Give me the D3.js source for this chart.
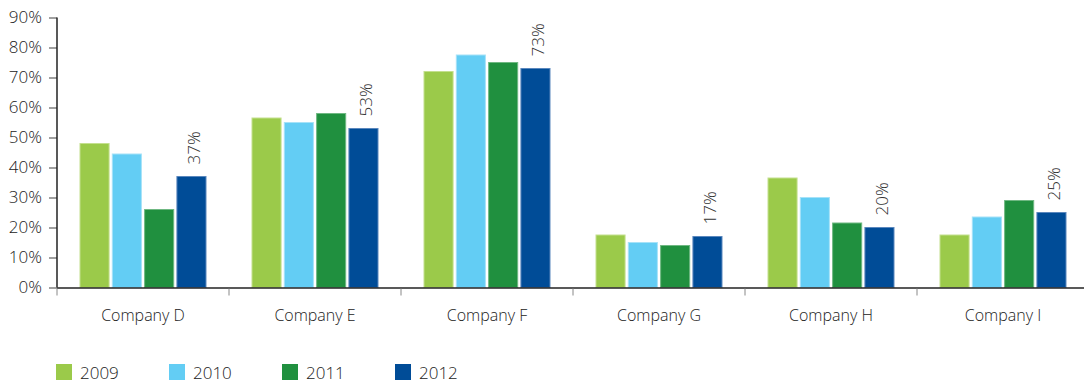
<!DOCTYPE html>
<html>
<head>
<meta charset="utf-8">
<script src="https://cdn.jsdelivr.net/npm/d3@7"></script>
<style>
  html, body { margin: 0; padding: 0; background: #fff; }
  svg { display: block; font-family: "Open Sans", "Noto Sans", sans-serif; font-weight: 300; }
</style>
</head>
<body>
<svg id="chart" width="1084" height="385"></svg>
<script>
// Companies along the x axis
const categories = ["Company D", "Company E", "Company F", "Company G", "Company H", "Company I"];
// Years shown as grouped bars
const years = ["2009", "2010", "2011", "2012"];
// Percent values per year, one entry per company
const values2009 = [48, 56.5, 72, 17.5, 36.5, 17.5];
const values2010 = [44.5, 55, 77.5, 15, 30, 23.5];
const values2011 = [26, 58, 75, 14, 21.5, 29];
const values2012 = [37, 53, 73, 17, 20, 25];
// Y axis tick values
const yTicks = [0, 10, 20, 30, 40, 50, 60, 70, 80, 90];

const series = [values2009, values2010, values2011, values2012];
const colors = ["#9BCA4A", "#63CDF4", "#20903F", "#004C97"];
const edges  = ["#c4e08e", "#a6e2f8", "#6fb882", "#5a87bd"];

const svg = d3.select("#chart");
const plotLeft = 57, plotRight = 1089, plotTop = 17.5, plotBottom = 287.5;

const x0 = d3.scaleBand().domain(categories).range([plotLeft, plotRight]).padding(0);
const groupW = 126;
const x1 = d3.scaleBand().domain(years).range([0, groupW]).paddingInner(0.1).paddingOuter(0);
const y = d3.scaleLinear().domain([0, 90]).range([plotBottom, plotTop]);

// Y axis: gray ticks on the left, dark spine
const yAxis = svg.append("g")
  .attr("transform", `translate(${plotLeft},0)`)
  .call(d3.axisLeft(y).tickValues(yTicks).tickFormat(d => d + "%").tickSize(8).tickPadding(7));
yAxis.select(".domain").remove();
yAxis.selectAll(".tick line").attr("stroke", "#a0a0a0").attr("stroke-width", 2);
yAxis.selectAll(".tick text")
  .attr("fill", "#222").style("font-size", "17px")
  .style("font-family", "'Open Sans', sans-serif").style("font-weight", 300);
svg.append("line")
  .attr("x1", plotLeft).attr("x2", plotLeft).attr("y1", plotTop).attr("y2", plotBottom)
  .attr("stroke", "#222").attr("stroke-width", 1.5);

// Bars
const groups = svg.append("g").selectAll("g")
  .data(categories)
  .join("g")
  .attr("transform", d => `translate(${x0(d) + (x0.bandwidth() - groupW) / 2},0)`);

groups.selectAll("rect")
  .data((d, i) => years.map((yr, k) => ({ yr, k, v: series[k][i] })))
  .join("rect")
  .attr("x", d => x1(d.yr))
  .attr("width", x1.bandwidth())
  .attr("y", d => y(d.v))
  .attr("height", d => plotBottom - y(d.v))
  .attr("fill", d => colors[d.k])
  .attr("stroke", d => edges[d.k])
  .attr("stroke-width", 1);

// Rotated labels above the 2012 bars
groups.append("text")
  .attr("transform", (d, i) => {
    const cx = x1("2012") + x1.bandwidth() / 2 + 3;
    return `translate(${cx},${y(values2012[i]) - 12}) rotate(-90)`;
  })
  .attr("dy", "0.35em")
  .attr("fill", "#333")
  .style("font-size", "17px")
  .text((d, i) => values2012[i] + "%");

// X axis baseline and gray ticks between companies
svg.append("line")
  .attr("x1", plotLeft).attr("x2", 1084).attr("y1", plotBottom + 0.5).attr("y2", plotBottom + 0.5)
  .attr("stroke", "#222").attr("stroke-width", 1.5);
const boundaries = categories.map(c => x0(c));
svg.append("g").selectAll("line")
  .data(boundaries)
  .join("line")
  .attr("x1", d => d).attr("x2", d => d)
  .attr("y1", plotBottom + 1).attr("y2", plotBottom + 8)
  .attr("stroke", "#888").attr("stroke-width", 1);

svg.append("g").selectAll("text")
  .data(categories)
  .join("text")
  .attr("x", d => x0(d) + x0.bandwidth() / 2)
  .attr("y", 321)
  .attr("text-anchor", "middle")
  .attr("fill", "#222")
  .style("font-size", "16px")
  .text(d => d);

// Legend
const legend = svg.append("g").selectAll("g")
  .data(years)
  .join("g")
  .attr("transform", (d, i) => `translate(${56 + i * 113},364)`);
legend.append("rect")
  .attr("width", 16).attr("height", 16)
  .attr("fill", (d, i) => colors[i]);
legend.append("text")
  .attr("x", 24).attr("y", 15)
  .attr("fill", "#222")
  .style("font-size", "17px")
  .text(d => d);
</script>
</body>
</html>
